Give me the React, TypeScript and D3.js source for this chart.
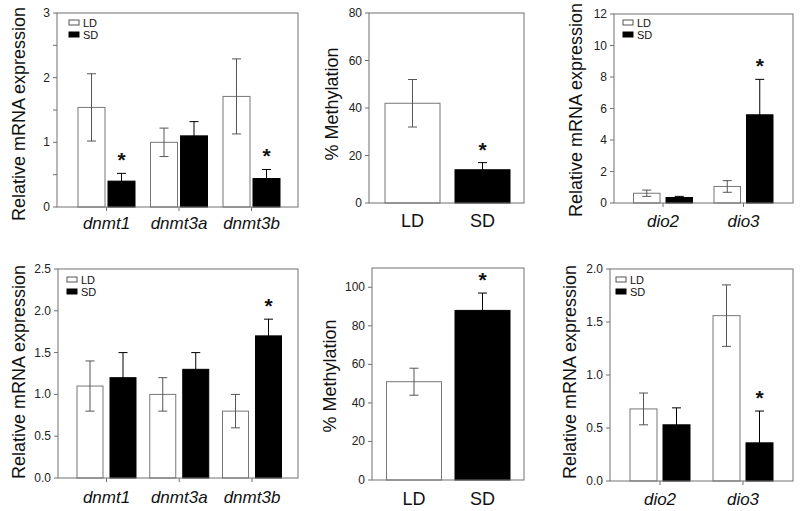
import React from "react";
import * as d3 from "d3";

// ---------- DATA ----------
const dnmtGenes = ["dnmt1", "dnmt3a", "dnmt3b"];
const dioGenes = ["dio2", "dio3"];
const photoperiods = ["LD", "SD"];

// Panel A (top-left)
const aLD = [1.54, 1.0, 1.71];
const aLDErr = [0.52, 0.22, 0.58];
const aSD = [0.4, 1.1, 0.44];
const aSDErr = [0.12, 0.22, 0.14];
const aSig = [true, false, true];

// Panel B (top-middle)
const bVals = [42, 14];
const bErr = [10, 3];
const bSig = [false, true];

// Panel C (top-right)
const cLD = [0.62, 1.05];
const cLDErr = [0.2, 0.37];
const cSD = [0.35, 5.6];
const cSDErr = [0.07, 2.25];
const cSig = [false, true];

// Panel D (bottom-left)
const dLD = [1.1, 1.0, 0.8];
const dLDErr = [0.3, 0.2, 0.2];
const dSD = [1.2, 1.3, 1.7];
const dSDErr = [0.3, 0.2, 0.2];
const dSig = [false, false, true];

// Panel E (bottom-middle)
const eVals = [51, 88];
const eErr = [7, 9];
const eSig = [false, true];

// Panel F (bottom-right)
const fLD = [0.68, 1.56];
const fLDErr = [0.15, 0.29];
const fSD = [0.53, 0.36];
const fSDErr = [0.16, 0.3];
const fSig = [false, true];

// tick labels
const ticksA = [0, 1, 2, 3];
const minorA = [0.5, 1.5, 2.5];
const ticksB = [0, 20, 40, 60, 80];
const ticksC = [0, 2, 4, 6, 8, 10, 12];
const ticksD = [0, 0.5, 1.0, 1.5, 2.0, 2.5];
const ticksE = [0, 20, 40, 60, 80, 100];
const ticksF = [0, 0.5, 1.0, 1.5, 2.0];

const FONT = "Liberation Sans, Arial, Helvetica, sans-serif";
const AXIS = "#707070";

type Bar = { cx: number; w: number; v: number; e: number; fill: string; sig: boolean };

type Spec = {
  left: number; right: number; top: number; bottom: number;
  yMax: number; ticks: number[]; minor?: number[]; fmt: string;
  cats: string[]; c0: number; c1: number; italic: boolean;
  grouped: boolean; barW: number; gap: number;
  ld?: number[]; ldErr?: number[]; sd?: number[]; sdErr?: number[];
  vals?: number[]; errs?: number[]; sig: boolean[];
  title: string; titleX: number; titleY: number;
  legend?: { x: number; y: number };
  catY: number; catTicks: boolean;
};

function Panel({ s }: { s: Spec }) {
  const y = d3.scaleLinear().domain([0, s.yMax]).range([s.bottom, s.top]);
  const x = d3.scalePoint<string>().domain(s.cats).range([s.c0, s.c1]);
  const bars: Bar[] = [];
  s.cats.forEach((c, i) => {
    const cx = x(c)!;
    if (s.grouped) {
      const off = (s.barW + s.gap) / 2;
      bars.push({ cx: cx - off, w: s.barW, v: s.ld![i], e: s.ldErr![i], fill: "white", sig: false });
      bars.push({ cx: cx + off, w: s.barW, v: s.sd![i], e: s.sdErr![i], fill: "black", sig: s.sig[i] });
    } else {
      bars.push({ cx, w: s.barW, v: s.vals![i], e: s.errs![i], fill: i === 0 ? "white" : "black", sig: s.sig[i] });
    }
  });
  const fmt = d3.format(s.fmt);
  const cap = 4.5;
  return (
    <g fontFamily={FONT}>
      {bars.map((b, i) => (
        <g key={i}>
          <rect x={b.cx - b.w / 2} y={y(b.v)} width={b.w} height={s.bottom - y(b.v)}
            fill={b.fill} stroke={b.fill === "white" ? "#777" : "black"} strokeWidth={1} />
          <g stroke={b.fill === "white" ? "#555" : "#000"} strokeWidth={1}>
            <line x1={b.cx} x2={b.cx} y1={y(b.v + b.e)} y2={y(Math.max(0, b.v - b.e))} />
            <line x1={b.cx - cap} x2={b.cx + cap} y1={y(b.v + b.e)} y2={y(b.v + b.e)} />
            <line x1={b.cx - cap} x2={b.cx + cap} y1={y(b.v - b.e)} y2={y(b.v - b.e)} />
          </g>
          {b.sig && (
            <text x={b.cx} y={y(b.v + b.e) - 6} textAnchor="middle" fontSize={21} fontWeight="bold" fill="#111">*</text>
          )}
        </g>
      ))}
      {/* frame */}
      <rect x={s.left} y={s.top} width={s.right - s.left} height={s.bottom - s.top} fill="none" stroke={AXIS} strokeWidth={1} />
      {/* y ticks */}
      {s.ticks.map((t) => (
        <g key={t}>
          <line x1={s.left - 4} x2={s.left} y1={y(t)} y2={y(t)} stroke={AXIS} />
          <text x={s.left - 7} y={y(t) + 4} textAnchor="end" fontSize={12} fill="#222">{fmt(t)}</text>
        </g>
      ))}
      {(s.minor || []).map((t) => (
        <line key={"m" + t} x1={s.left - 4} x2={s.left} y1={y(t)} y2={y(t)} stroke={AXIS} />
      ))}
      {/* x categories */}
      {s.cats.map((c) => (
        <g key={c}>
          {s.catTicks && <line x1={x(c)!} x2={x(c)!} y1={s.bottom} y2={s.bottom + 4} stroke={AXIS} />}
          <text x={x(c)!} y={s.catY} textAnchor="middle" fontSize={s.italic ? 17 : 18}
            fontStyle={s.italic ? "italic" : "normal"} fill="#111">{c}</text>
        </g>
      ))}
      {/* title */}
      <text transform={`translate(${s.titleX},${s.titleY}) rotate(-90)`} textAnchor="middle" fontSize={18} fill="#111">{s.title}</text>
      {/* legend */}
      {s.legend && photoperiods.map((p, i) => (
        <g key={p}>
          <rect x={s.legend!.x} y={s.legend!.y + i * 12} width={10} height={5}
            fill={i === 0 ? "white" : "black"} stroke={i === 0 ? "#555" : "black"} />
          <text x={s.legend!.x + 14} y={s.legend!.y + i * 12 + 6.5} fontSize={11} fill="#111">{p}</text>
        </g>
      ))}
    </g>
  );
}

const panels: Spec[] = [
  {
    left: 57, right: 298, top: 13, bottom: 207, yMax: 3, ticks: ticksA, minor: minorA, fmt: "d",
    cats: dnmtGenes, c0: 106.5, c1: 251.5, italic: true, grouped: true, barW: 27, gap: 3,
    ld: aLD, ldErr: aLDErr, sd: aSD, sdErr: aSDErr, sig: aSig,
    title: "Relative mRNA expression", titleX: 25, titleY: 114, legend: { x: 69, y: 20 }, catY: 229, catTicks: true,
  },
  {
    left: 369, right: 524, top: 13, bottom: 203, yMax: 80, ticks: ticksB, fmt: "d",
    cats: photoperiods, c0: 412.5, c1: 482.5, italic: false, grouped: false, barW: 55, gap: 0,
    vals: bVals, errs: bErr, sig: bSig,
    title: "% Methylation", titleX: 338, titleY: 104, catY: 227, catTicks: false,
  },
  {
    left: 614, right: 793, top: 14, bottom: 203, yMax: 12, ticks: ticksC, fmt: "d",
    cats: dioGenes, c0: 663, c1: 743.5, italic: true, grouped: true, barW: 26.5, gap: 6,
    ld: cLD, ldErr: cLDErr, sd: cSD, sdErr: cSDErr, sig: cSig,
    title: "Relative mRNA expression", titleX: 582, titleY: 110, legend: { x: 623, y: 20 }, catY: 227, catTicks: true,
  },
  {
    left: 58, right: 298, top: 269, bottom: 478, yMax: 2.5, ticks: ticksD, fmt: ".1f",
    cats: dnmtGenes, c0: 106.5, c1: 252, italic: true, grouped: true, barW: 26, gap: 7,
    ld: dLD, ldErr: dLDErr, sd: dSD, sdErr: dSDErr, sig: dSig,
    title: "Relative mRNA expression", titleX: 25, titleY: 372, legend: { x: 67, y: 277 }, catY: 503, catTicks: true,
  },
  {
    left: 372, right: 524, top: 268, bottom: 480, yMax: 110, ticks: ticksE, fmt: "d",
    cats: photoperiods, c0: 414, c1: 482.5, italic: false, grouped: false, barW: 55, gap: 0,
    vals: eVals, errs: eErr, sig: eSig,
    title: "% Methylation", titleX: 336, titleY: 376, catY: 505, catTicks: false,
  },
  {
    left: 610, right: 793, top: 269, bottom: 481, yMax: 2.0, ticks: ticksF, fmt: ".1f",
    cats: dioGenes, c0: 660, c1: 743, italic: true, grouped: true, barW: 27, gap: 6,
    ld: fLD, ldErr: fLDErr, sd: fSD, sdErr: fSDErr, sig: fSig,
    title: "Relative mRNA expression", titleX: 576, titleY: 372, legend: { x: 616, y: 277 }, catY: 505, catTicks: true,
  },
];

export default function App() {
  return (
    <svg width={800} height={511} viewBox="0 0 800 511"
      style={{ position: "absolute", left: 0, top: 0, background: "white" }}>
      <rect width={800} height={511} fill="white" />
      {panels.map((s, i) => <Panel key={i} s={s} />)}
    </svg>
  );
}
